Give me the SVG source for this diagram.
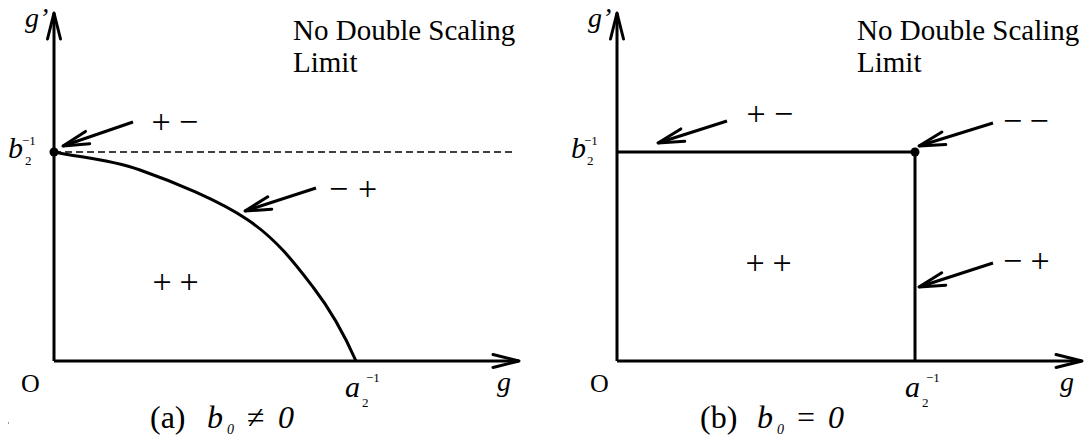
<svg xmlns="http://www.w3.org/2000/svg" width="1086" height="445" viewBox="0 0 1086 445">
<style>
.ln{fill:none;stroke:#000;stroke-width:3}
.dash{fill:none;stroke:#000;stroke-width:1.5;stroke-dasharray:7 4}
.t{font-family:"Liberation Serif","Times New Roman","DejaVu Serif",serif;fill:#000}
.i{font-style:italic}
.s{font-family:"Liberation Serif","Times New Roman","DejaVu Serif",serif;font-size:34px;fill:#000;text-anchor:middle}
</style>
<defs>
<marker id="ah" markerUnits="userSpaceOnUse" orient="auto" refX="0" refY="0" markerWidth="40" markerHeight="20" viewBox="-35 -10 40 20" overflow="visible">
<path d="M-26,-6.5 L0,0 L-26,6.5" fill="none" stroke="#000" stroke-width="3" stroke-linecap="round" stroke-linejoin="round"/>
</marker>
</defs>
<rect width="1086" height="445" fill="#fff"/>

<g id="panel-a">
<g id="axes-a">
<line class="ln" x1="54" y1="361" x2="54" y2="13" marker-end="url(#ah)"/>
<line class="ln" x1="54" y1="361" x2="519" y2="361" marker-end="url(#ah)"/>
</g>
<g id="connectors-a">
<line class="dash" x1="54" y1="152" x2="512" y2="152"/>
<path class="ln" d="M54,152 C82.7,158 107.7,158.7 140,170 C172.3,181.3 219.2,200.5 248,220 C276.8,239.5 295,263.5 313,287 C331,310.5 344.3,334.3 356,361"/>
<line class="ln" x1="133" y1="122" x2="63" y2="146" marker-end="url(#ah)"/>
<line class="ln" x1="316" y1="188" x2="245" y2="211" marker-end="url(#ah)"/>
</g>
<circle id="dot-a" cx="54" cy="152" r="4.5" fill="#000"/>
<g id="labels-a">
<text class="t i" x="25" y="27" font-size="28">g’</text>
<text class="t i" x="8" y="158" font-size="30">b</text>
<text class="t" x="22" y="145" font-size="13">−1</text>
<text class="t" x="25" y="165" font-size="13">2</text>
<text class="t" x="21" y="392" font-size="26">O</text>
<text class="t i" x="345" y="397" font-size="30">a</text>
<text class="t" x="366" y="382" font-size="13">−1</text>
<text class="t" x="362" y="407" font-size="13">2</text>
<text class="t i" x="497" y="391" font-size="28">g</text>
<text class="t" x="293" y="40" font-size="29">No Double Scaling</text>
<text class="t" x="293" y="72" font-size="29">Limit</text>
<text class="s" x="161" y="133">+</text><text class="s" x="188.5" y="133">−</text>
<text class="s" x="338.5" y="200">−</text><text class="s" x="367.5" y="200">+</text>
<text class="s" x="162" y="293">+</text><text class="s" x="189" y="293">+</text>
</g>
<g id="caption-a">
<text class="t" x="150" y="428" font-size="32">(a)</text>
<text class="t i" x="207" y="428" font-size="32">b</text>
<text class="t i" x="227" y="434" font-size="14">0</text>
<text class="t" x="247" y="428" font-size="32">≠</text>
<text class="t i" x="278" y="428" font-size="32">0</text>
</g>
</g>

<g id="panel-b">
<g id="axes-b">
<line class="ln" x1="617" y1="361" x2="617" y2="13" marker-end="url(#ah)"/>
<line class="ln" x1="617" y1="361" x2="1082" y2="361" marker-end="url(#ah)"/>
</g>
<g id="connectors-b">
<polyline class="ln" points="617,152 915,152 915,361"/>
<line class="ln" x1="727" y1="121" x2="658" y2="143" marker-end="url(#ah)"/>
<line class="ln" x1="993" y1="123" x2="919" y2="146" marker-end="url(#ah)"/>
<line class="ln" x1="993" y1="263" x2="919" y2="287" marker-end="url(#ah)"/>
</g>
<circle id="dot-b" cx="915" cy="152" r="4.5" fill="#000"/>
<g id="labels-b">
<text class="t i" x="588" y="27" font-size="28">g’</text>
<text class="t i" x="571" y="158" font-size="30">b</text>
<text class="t" x="584" y="145" font-size="13">−1</text>
<text class="t" x="587" y="165" font-size="13">2</text>
<text class="t" x="590" y="392" font-size="26">O</text>
<text class="t i" x="905" y="397" font-size="30">a</text>
<text class="t" x="926" y="382" font-size="13">−1</text>
<text class="t" x="922" y="407" font-size="13">2</text>
<text class="t i" x="1060" y="391" font-size="28">g</text>
<text class="t" x="857" y="40" font-size="29">No Double Scaling</text>
<text class="t" x="857" y="72" font-size="29">Limit</text>
<text class="s" x="756" y="125">+</text><text class="s" x="783.5" y="125">−</text>
<text class="s" x="1012.5" y="132">−</text><text class="s" x="1039" y="132">−</text>
<text class="s" x="1012.5" y="272">−</text><text class="s" x="1040" y="272">+</text>
<text class="s" x="755" y="274">+</text><text class="s" x="782" y="274">+</text>
</g>
<g id="caption-b">
<text class="t" x="700" y="428" font-size="32">(b)</text>
<text class="t i" x="757" y="428" font-size="32">b</text>
<text class="t i" x="777" y="434" font-size="14">0</text>
<text class="t" x="797" y="428" font-size="32">=</text>
<text class="t i" x="828" y="428" font-size="32">0</text>
</g>
</g>
<rect x="8" y="422" width="1" height="2" fill="#999"/>
</svg>
